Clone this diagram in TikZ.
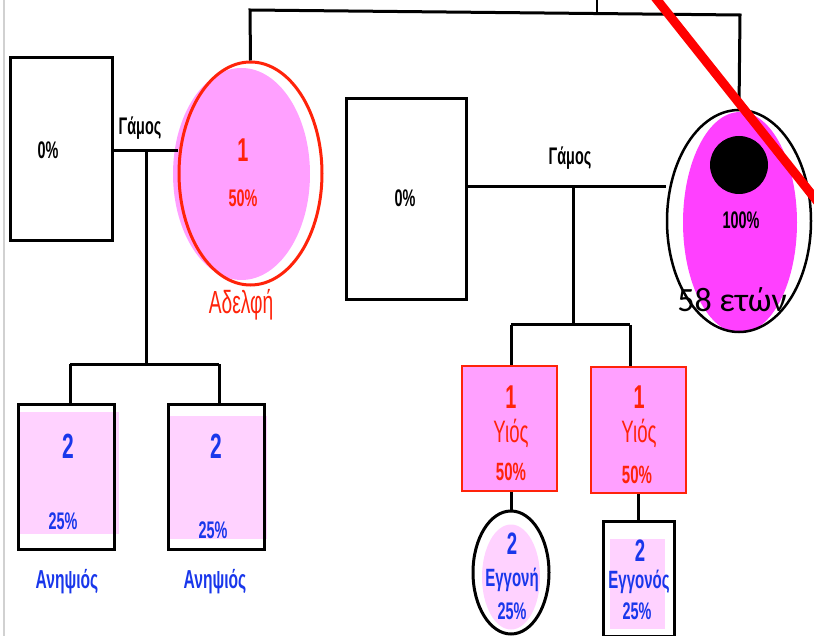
\documentclass[tikz,border=0pt]{standalone}
\usepackage{fontspec}
\setmainfont{Liberation Sans}
\newfontfamily\narrowsans[FakeStretch=0.6]{Liberation Sans}
\newfontfamily\agefont{Carlito}
\usetikzlibrary{shapes.geometric}
\definecolor{pinkA}{RGB}{255,160,255}
\definecolor{pinkB}{RGB}{255,210,255}
\definecolor{magentaA}{RGB}{255,64,255}
\definecolor{redA}{RGB}{255,35,10}
\definecolor{blueA}{RGB}{25,55,235}
\newcommand\fsz[1]{\fontsize{#1}{#1}\selectfont}

\begin{document}
\begin{tikzpicture}[x=1pt, y=-1pt,
  conn/.style={line width=3pt},
  sqr/.style={rectangle, draw, line width=3pt, inner sep=0pt},
  ovl/.style={ellipse, inner sep=0pt},
  txt/.style={font=\narrowsans\bfseries\fsz{#1}, inner sep=1pt},
  rtxt/.style={font=\narrowsans\fsz{#1}, inner sep=1pt}]
  \useasboundingbox (0,0) rectangle (814,636);
  \draw[black!18, line width=1.5pt] (4,0) -- (4,636);

  % sister and her husband
  \node[sqr, minimum width=102pt, minimum height=183pt] (husbandA) at (61,149.5) {};
  \node[ovl, fill=pinkA, minimum width=137pt, minimum height=212pt] (sisterfill) at (241.5,174) {};
  \node[ovl, draw=redA, line width=3pt, minimum width=143pt, minimum height=223pt] (sister) at (250.5,173.5) {};
  \node[txt=24] (husbandAp) at (48,150) {0\%};
  \node[txt=24] (marAlbl) at (140,128) {Γάμος};
  \node[txt=33, text=redA] (sisterg) at (243,150) {1};
  \node[txt=24, text=redA] (sisterp) at (243,198) {50\%};
  \node[rtxt=32, text=redA] (sisterlbl) at (241,305) {Αδελφή};

  % patient and her husband
  \node[sqr, minimum width=120pt, minimum height=201pt] (husbandB) at (406,199.5) {};
  \node[ovl, fill=magentaA, minimum width=114pt, minimum height=221pt] (patientfill) at (740,222.5) {};
  \node[ovl, draw, line width=2.5pt, minimum width=144pt, minimum height=222pt] (patient) at (739,221) {};
  \node[circle, fill=black, minimum size=58pt] (patientdot) at (739,165) {};
  \node[txt=24] (husbandBp) at (405,198) {0\%};
  \node[txt=24] (marBlbl) at (570,158) {Γάμος};
  \node[txt=24] (patientp) at (741,220) {100\%};
  \node[font=\agefont\fsz{34}] (patientage) at (732,300) {58 ετών};

  % nephews
  \node[rectangle, fill=pinkB, minimum width=99pt, minimum height=122pt] (nephewAfill) at (69.5,473) {};
  \node[sqr, minimum width=96pt, minimum height=145pt] (nephewA) at (66,476.5) {};
  \node[rectangle, fill=pinkB, minimum width=99pt, minimum height=123pt] (nephewBfill) at (217.5,477.5) {};
  \node[sqr, minimum width=96pt, minimum height=145pt] (nephewB) at (216,476.5) {};
  \node[txt=35, text=blueA] (nephewAg) at (68,446) {2};
  \node[txt=24, text=blueA] (nephewAp) at (63,521) {25\%};
  \node[txt=26, text=blueA] (nephewAlbl) at (67,582) {Ανηψιός};
  \node[txt=35, text=blueA] (nephewBg) at (216,446) {2};
  \node[txt=24, text=blueA] (nephewBp) at (213,530) {25\%};
  \node[txt=26, text=blueA] (nephewBlbl) at (215,582) {Ανηψιός};

  % sons
  \node[rectangle, fill=pinkA, draw=redA, line width=2.5pt, minimum width=95pt, minimum height=125pt] (sonA) at (509.5,428.5) {};
  \node[rectangle, fill=pinkA, draw=redA, line width=2.5pt, minimum width=95pt, minimum height=126pt] (sonB) at (638.5,430) {};
  \node[txt=33, text=redA] (sonAg) at (511,397) {1};
  \node[rtxt=31, text=redA] (sonAlbl) at (511,433) {Υιός};
  \node[txt=25, text=redA] (sonAp) at (511,472) {50\%};
  \node[txt=33, text=redA] (sonBg) at (639,397) {1};
  \node[rtxt=31, text=redA] (sonBlbl) at (639,433) {Υιός};
  \node[txt=25, text=redA] (sonBp) at (637,475) {50\%};

  % grandchildren
  \node[ovl, fill=pinkB, minimum width=58pt, minimum height=105pt] (gdaughterfill) at (511,577) {};
  \node[ovl, draw, line width=3pt, minimum width=76pt, minimum height=123pt] (gdaughter) at (511,572.5) {};
  \node[rectangle, fill=pinkB, minimum width=55pt, minimum height=90pt] (gsonfill) at (637.5,583.5) {};
  \node[sqr, minimum width=71pt, minimum height=115pt] (gson) at (638.5,578.5) {};
  \node[txt=31, text=blueA] (gdaughterg) at (512,544) {2};
  \node[txt=25, text=blueA] (gdaughterlbl) at (512,580) {Εγγονή};
  \node[txt=24, text=blueA] (gdaughterp) at (512,611) {25\%};
  \node[txt=31, text=blueA] (gsong) at (640,551) {2};
  \node[txt=25, text=blueA] (gsonlbl) at (639,582) {Εγγονός};
  \node[txt=24, text=blueA] (gsonp) at (637,611) {25\%};

  % connectors
  \coordinate (topL) at (250,10);
  \coordinate (topR) at (740,15);
  \coordinate (parents) at (597,0);
  \draw[conn] (sister.north) -- (topL) -- (topR) -- (patient.north);
  \draw[line width=2pt] (parents) -- (parents |- topR);

  \coordinate (marA) at (146,151);
  \coordinate (sibA) at (146,364);
  \coordinate (sibL) at (70,364);
  \coordinate (sibR) at (219,364);
  \draw[conn] (husbandA.east |- marA) -- (sister.west |- marA);
  \draw[conn] (marA) -- (sibA);
  \draw[conn] (sibL) -- (sibR);
  \draw[conn] (sibL) -- (sibL |- nephewA.north);
  \draw[conn] (sibR) -- (sibR |- nephewB.north);

  \coordinate (marB) at (573,187);
  \coordinate (kidsB) at (573,325);
  \coordinate (kidL) at (511,325);
  \coordinate (kidR) at (630,325);
  \draw[conn] (husbandB.east |- marB) -- (patient.west |- marB);
  \draw[conn] (marB) -- (kidsB);
  \draw[conn] (kidL) -- (kidR);
  \draw[conn] (kidL) -- (kidL |- sonA.north);
  \draw[conn] (kidR) -- (kidR |- sonB.north);
  \draw[conn] (gdaughter.north |- sonA.south) -- (gdaughter.north);
  \draw[conn] (gson.north |- sonB.south) -- (gson.north);

  % deceased mark
  \coordinate (slashA) at (650,-9);
  \coordinate (slashB) at (840,230);
  \draw[red, line width=9pt] (slashA) -- (slashB);
\end{tikzpicture}
\end{document}
